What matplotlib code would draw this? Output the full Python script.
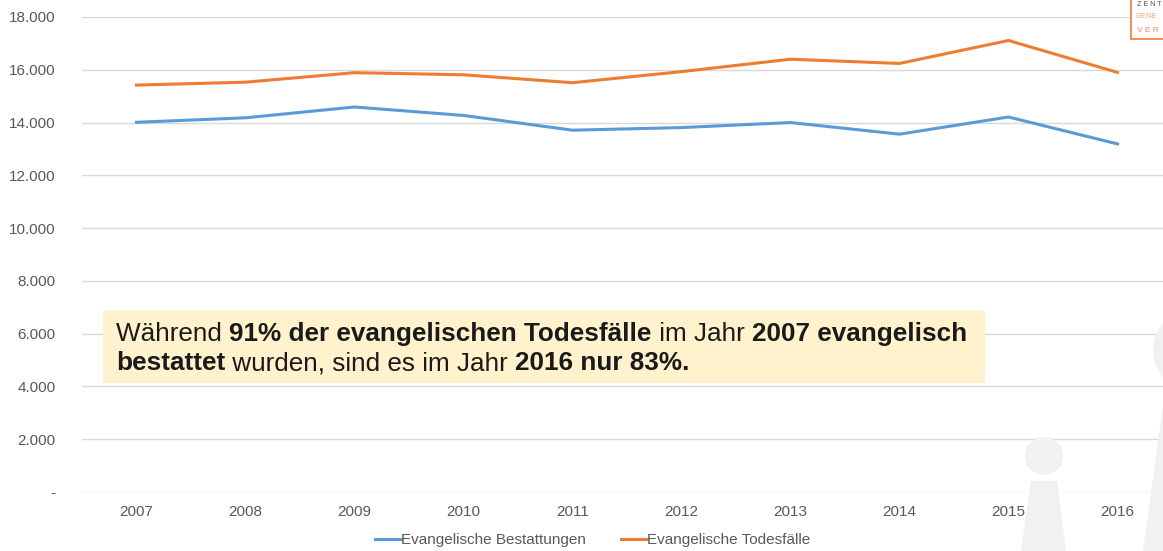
import matplotlib
matplotlib.use("Agg")
import matplotlib.pyplot as plt
from matplotlib.patches import Rectangle, Ellipse, Polygon
from matplotlib.ticker import FuncFormatter

# ---- data ----
years = ["2007", "2008", "2009", "2010", "2011", "2012", "2013", "2014", "2015", "2016"]
bestattungen = [14010, 14180, 14590, 14270, 13710, 13810, 14000, 13560, 14210, 13190]
todesfaelle = [15420, 15530, 15890, 15810, 15510, 15930, 16400, 16240, 17110, 15900]
series_names = ["Evangelische Bestattungen", "Evangelische Todesfälle"]
y_ticks = [0, 2000, 4000, 6000, 8000, 10000, 12000, 14000, 16000, 18000]

W, H = 1163, 551
plt.rcParams['font.family'] = ['Liberation Sans', 'DejaVu Sans']
fig = plt.figure(figsize=(W / 100, H / 100), dpi=100)

def fx(px):
    return px / W

def fy(py):
    return 1 - py / H

def circ(cx, cy, r, color):
    return Ellipse((fx(cx), fy(cy)), 2 * r / W, 2 * r / H, transform=fig.transFigure,
                   facecolor=color, edgecolor="none", zorder=0)

# watermark shapes (behind everything)
wm = "#F1F1F1"
fig.patches.append(circ(1044, 456, 19, wm))
fig.patches.append(Polygon([(fx(1031), fy(481)), (fx(1057), fy(481)),
                            (fx(1066), fy(551)), (fx(1021), fy(551))],
                           closed=True, transform=fig.transFigure,
                           facecolor=wm, edgecolor="none", zorder=0))
fig.patches.append(circ(1195, 350, 42, wm))
fig.patches.append(Polygon([(fx(1163), fy(405)), (fx(1163), fy(551)),
                            (fx(1143), fy(551))],
                           closed=True, transform=fig.transFigure,
                           facecolor=wm, edgecolor="none", zorder=0))

ax = fig.add_axes([fx(82), fy(492), fx(1172) - fx(82), fy(17) - fy(492)])
ax.set_facecolor("none")

x = list(range(len(years)))
ax.plot(x, bestattungen, color="#5B9BD5", lw=2.2, label=series_names[0],
        solid_joinstyle="round", zorder=3)
ax.plot(x, todesfaelle, color="#ED7D31", lw=2.2, label=series_names[1],
        solid_joinstyle="round", zorder=3)

ax.set_xlim(-0.5, len(years) - 0.5)
ax.set_ylim(0, 18000)
ax.set_yticks(y_ticks)
ax.yaxis.set_major_formatter(FuncFormatter(
    lambda v, p: "-" if v == 0 else f"{int(v):,}".replace(",", ".")))
ax.set_xticks(x)
ax.set_xticklabels(years)
ax.grid(axis="y", color="#D9D9D9", lw=1)
ax.set_axisbelow(True)
for s in ax.spines.values():
    s.set_visible(False)
ax.tick_params(axis="both", length=0, labelsize=11, labelcolor="#595959")
ax.tick_params(axis="y", pad=19)
ax.tick_params(axis="x", pad=9)

leg = fig.legend(loc="center", bbox_to_anchor=(fx(593), fy(540)), ncol=2,
                 frameon=False, fontsize=11, handlelength=1.7,
                 handletextpad=0.0, columnspacing=2.3)
for t in leg.get_texts():
    t.set_color("#595959")

# annotation box
fig.patches.append(Rectangle((fx(103), fy(383)), fx(985) - fx(103), fy(310) - fy(383),
                             transform=fig.transFigure, facecolor="#FFF2CC",
                             edgecolor="none", zorder=5))

line1 = [("Während ", "normal"), ("91% der evangelischen Todesfälle", "bold"),
         (" im Jahr ", "normal"), ("2007 evangelisch", "bold")]
line2 = [("bestattet", "bold"), (" wurden, sind es im Jahr ", "normal"),
         ("2016 nur 83%.", "bold")]

renderer = fig.canvas.get_renderer()

def measure(s, weight, size):
    t = fig.text(0, 0, s.replace(" ", "\u00a0"), fontsize=size, fontweight=weight)
    w = t.get_window_extent(renderer).width
    t.remove()
    return w

base_size = 16
total = sum(measure(s, w, base_size) for s, w in line1)
size = base_size * (968 - 116) / total

def draw_line(parts, x0, ybase):
    xc = x0
    for s, w in parts:
        t = fig.text(fx(xc), fy(ybase), s.replace(" ", "\u00a0"), fontsize=size,
                     fontweight=w, color="#1A1A1A", va="baseline", ha="left", zorder=6)
        xc += t.get_window_extent(renderer).width

draw_line(line1, 116, 341)
draw_line(line2, 116, 370)

# logo (partially cut at top right)
fig.patches.append(Rectangle((fx(1131), fy(39)), fx(1200) - fx(1131), fy(-5) - fy(39),
                             transform=fig.transFigure, facecolor="white",
                             edgecolor="#ED7D31", lw=1.2, zorder=7))
fig.text(fx(1137), fy(5), "Z E N T", fontsize=5, color="#555555", va="center", zorder=8)
fig.text(fx(1136), fy(17), "GENE", fontsize=5.5, color="#F4A07A", va="center", zorder=8)
fig.text(fx(1137), fy(30), "V E R", fontsize=6, color="#F08A5A", va="center", zorder=8)

fig.savefig("out.png", dpi=100)
